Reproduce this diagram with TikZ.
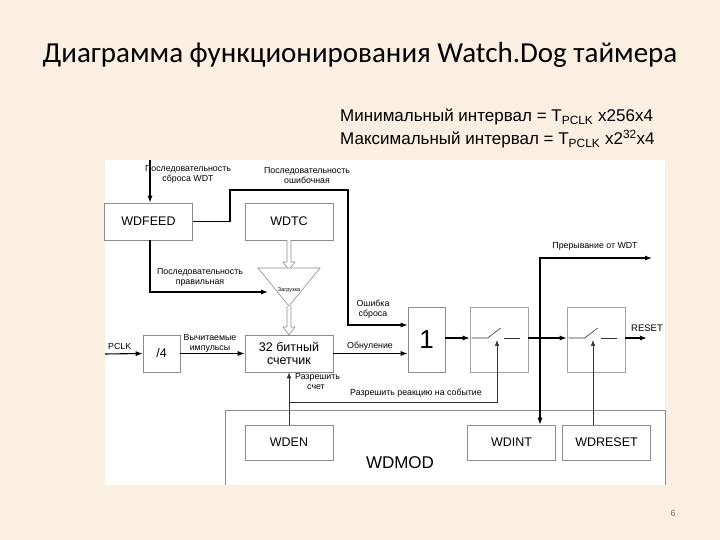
\documentclass[tikz,border=0pt]{standalone}
\usepackage{fontspec}
\setmainfont{Liberation Sans}
\newfontfamily\titlefont{Carlito}
\usetikzlibrary{arrows.meta}
\definecolor{bg}{HTML}{FBEFE2}
\definecolor{bx}{HTML}{8C8C8C}
\tikzset{
 blk/.style={draw=bx,line width=0.6pt,fill=white,minimum width=88pt,minimum height=37pt,font=\fontsize{12.5}{12.5}\selectfont},
 sw/.style={draw=bx!80,line width=0.6pt,fill=white,minimum width=58pt,minimum height=65pt},
 sig/.style={line width=1.1pt,-{Latex[length=7pt,width=5pt]}},
 wire/.style={line width=1.1pt},
 thinw/.style={line width=0.6pt,draw=black!80},
 thinar/.style={line width=0.6pt,draw=black!80,-{Latex[length=6pt,width=4.5pt]}},
 lbl/.style={font=\fontsize{8.8}{10}\selectfont,align=center,inner sep=0pt},
 dbl/.style={bx,line width=0.6pt}
}
\begin{document}
\begin{tikzpicture}[x=1pt,y=1pt]
\fill[bg] (0,0) rectangle (720,540);
\useasboundingbox (0,0) rectangle (720,540);
\fill[white] (105,540-160) rectangle (665,540-485);
\node[font=\titlefont\fontsize{29}{29}\selectfont] (title) at (360,540-55) {Диаграмма функционирования Watch.Dog таймера};
\node[anchor=west,font=\fontsize{17}{17}\selectfont,inner sep=0pt] (min) at (340,540-117) {Минимальный интервал = T\textsubscript{PCLK} x256x4};
\node[anchor=west,font=\fontsize{17}{17}\selectfont,inner sep=0pt] (max) at (340,540-139) {Максимальный интервал = T\textsubscript{PCLK} x2\textsuperscript{32}x4};
\draw[bx,line width=0.6pt] (225,540-485) -- (225,540-410) -- (665,540-410) -- (665,540-485);
\node[font=\fontsize{17}{17}\selectfont] (wdmod) at (400,540-463) {WDMOD};
\node[blk] (wdfeed) at (148.5,540-221.5) {WDFEED};
\node[blk] (wdtc) at (289,540-221.5) {WDTC};
\node[blk,align=center,font=\fontsize{12.5}{13}\selectfont] (cnt) at (289,540-353.5) {32 битный\\счетчик};
\node[blk,minimum width=37pt] (div) at (161.5,540-353.5) {/4};
\node[blk,minimum width=37pt,minimum height=65pt,font=\fontsize{26}{26}\selectfont] (or) at (426.5,540-339.5) {1};
\node[sw] (sw1) at (499,540-339.5) {};
\node[sw] (sw2) at (596,540-339.5) {};
\node[blk,minimum height=35pt] (wden) at (289,540-442.5) {WDEN};
\node[blk,minimum height=35pt] (wdint) at (511.5,540-442.5) {WDINT};
\node[blk,minimum height=35pt] (wdreset) at (606.5,540-442.5) {WDRESET};
\draw[dbl,fill=white] (287,540-240) -- (287,540-262) -- (283,540-262) -- (289,540-270) -- (295,540-262) -- (291,540-262) -- (291,540-240);
\draw[bx,line width=0.6pt,fill=white] (258,540-268) -- (320,540-268) -- (289,540-306) -- cycle;
\node[font=\fontsize{5.5}{5.5}\selectfont] (load) at (289,540-290) {Загрузка};
\draw[dbl,fill=white] (287,540-306) -- (287,540-327) -- (283,540-327) -- (289,540-335) -- (295,540-327) -- (291,540-327) -- (291,540-306);
\coordinate (topin) at (150,540-160);
\draw[sig] (topin) -- (wdfeed.north -| topin);
\node[lbl] (l1) at (188,540-174) {Последовательность\\сброса WDT};
\draw[sig] (wdfeed.south -| topin) -- (150,540-292) -- (268,540-292);
\node[lbl] (l2) at (200,540-277) {Последовательность\\правильная};
\draw[sig] (wdfeed.east) -- (230,540-221.5) -- (230,540-190) -- (348,540-190) -- (348,540-325) -- (or.west |- 0,540-325);
\node[lbl] (l3) at (307,540-176) {Последовательность\\ошибочная};
\node[lbl] (l4) at (373,540-309) {Ошибка\\сброса};
\coordinate (pclk) at (105,540-354);
\draw[sig] (pclk) -- (div.west);
\node[lbl,anchor=west] (l5) at (108,540-346) {PCLK};
\draw[sig] (div.east) -- (cnt.west);
\node[lbl] (l6) at (210,540-343) {Вычитаемые\\импульсы};
\draw[sig] (cnt.east) -- (or.west |- cnt.east);
\node[lbl] (l7) at (370,540-346) {Обнуление};
\draw[sig] (or.east |- 0,540-338) -- (sw1.west |- 0,540-338);
\foreach \s in {sw1,sw2}{
 \draw[thinw] ([xshift=2pt]\s.west |- 0,540-338) -- ++(16,0) -- ++(13,10);
 \draw[thinw] ([xshift=-24pt]\s.east |- 0,540-338) -- ++(16,0);
}
\draw[wire] (sw1.east |- 0,540-338) -- (540,540-338);
\draw[sig] (540,540-338) -- (sw2.west |- 0,540-338);
\coordinate (irq) at (652,540-258);
\draw[sig] (540,540-338) -- (540,540-258) -- (irq);
\node[lbl] (l8) at (595,540-246) {Прерывание от WDT};
\draw[sig] (540,540-338) -- (wdint.north -| 540,0);
\coordinate (rst) at (647,540-338);
\draw[sig] (sw2.east |- 0,540-338) -- (rst);
\node[lbl,font=\fontsize{9.5}{10}\selectfont] (l9) at (647,540-328) {RESET};
\draw[thinar] (wdreset.north -| 593,0) -- (593,540-340);
\draw[thinar] (wden.north) -- (cnt.south);
\draw[thinar] (289,540-402) -- (497,540-402) -- (497,540-340);
\node[lbl,align=left,anchor=west] (l10) at (295,540-382) {Разрешить\\\hspace*{12pt}счет};
\node[lbl] (l11) at (416,540-393) {Разрешить реакцию на событие};
\node[font=\fontsize{9}{9}\selectfont,text=black!55] (pg) at (673,540-513) {6};
\end{tikzpicture}
\end{document}
